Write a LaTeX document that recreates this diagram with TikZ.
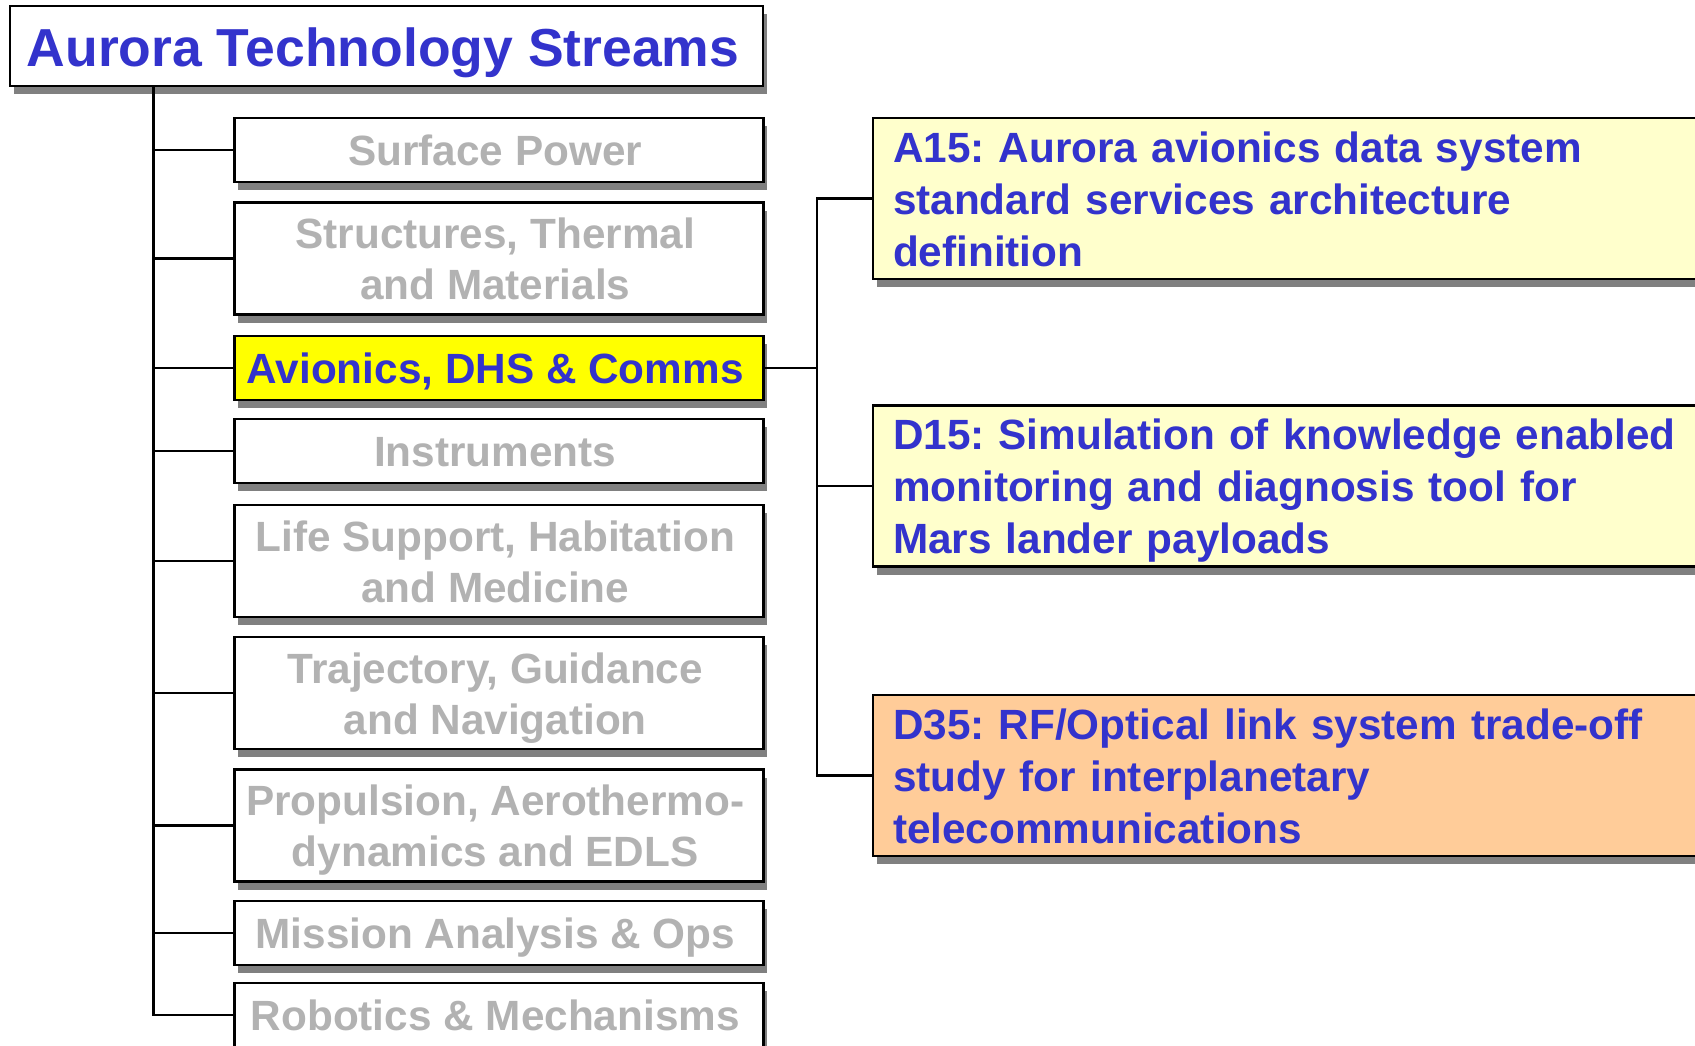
\documentclass[tikz,border=0pt]{standalone}
\usepackage{fontspec}
\setmainfont{Liberation Sans}
\usetikzlibrary{shadows}
\frenchspacing
\definecolor{txtblue}{RGB}{51,51,204}
\definecolor{txtgray}{RGB}{178,178,178}
\definecolor{shgray}{RGB}{128,128,128}
\definecolor{hlyellow}{RGB}{255,255,0}
\definecolor{paleyellow}{RGB}{255,255,204}
\definecolor{peach}{RGB}{255,204,153}
\newcommand\lnstrut{\rule[-0.22em]{0pt}{1.196em}}
\newcommand\Ln[1]{\lnstrut#1\kern7pt}
\tikzset{
  boxbase/.style={draw=black, line width=2.5pt, fill=white, rectangle, inner sep=0pt,
    drop shadow={shadow xshift=4pt, shadow yshift=-8pt, opacity=1, fill=shgray}},
  leftbox/.style={boxbase, minimum width=529pt, align=center, text=txtgray,
    font=\fontsize{42.3}{51}\selectfont\bfseries},
  single/.style={minimum height=64pt},
  double/.style={minimum height=112pt},
  rightbox/.style={boxbase, minimum width=857pt, minimum height=161pt, text width=817pt,
    inner xsep=20pt, align=left, text=txtblue, font=\fontsize{42.3}{52}\selectfont\bfseries},
  conn/.style={line width=2.5pt, draw=black}
}
\begin{document}
\begin{tikzpicture}[x=1pt,y=-1pt]
\clip (0,0) rectangle (1695,1046);
\fill[white] (0,0) rectangle (1695,1046);

\node[boxbase, minimum width=753pt, minimum height=80pt, text=txtblue,
  font=\fontsize{53.5}{60}\selectfont\bfseries] (title) at (386.5,46) {\Ln{Aurora Technology Streams}};

\node[leftbox, single] (sp)  at (498.75,150)   {\Ln{Surface Power}};
\node[leftbox, double] (stm) at (498.75,258.5) {\Ln{Structures, Thermal}\\\Ln{and Materials}};
\node[leftbox, single, fill=hlyellow, text=txtblue] (av) at (498.75,368) {\Ln{Avionics, DHS \& Comms}};
\node[leftbox, single] (ins) at (498.75,451)   {\Ln{Instruments}};
\node[leftbox, double] (ls)  at (498.75,561)   {\Ln{Life Support, Habitation}\\\Ln{and Medicine}};
\node[leftbox, double] (tgn) at (498.75,693)   {\Ln{Trajectory, Guidance}\\\Ln{and Navigation}};
\node[leftbox, double] (pa)  at (498.75,825.5) {\Ln{Propulsion, Aerothermo-}\\\Ln{dynamics and EDLS}};
\node[leftbox, single] (ma)  at (498.75,933)   {\Ln{Mission Analysis \& Ops}};
\node[leftbox, single] (rm)  at (498.75,1015)  {\Ln{Robotics \& Mechanisms}};

\node[rightbox, fill=paleyellow] (a15) at (1301.5,198.5) {\lnstrut A15: Aurora avionics data system\\\lnstrut standard services architecture\\\lnstrut definition};
\node[rightbox, fill=paleyellow] (d15) at (1301.5,486) {\lnstrut D15: Simulation of knowledge enabled\\\lnstrut monitoring and diagnosis tool for\\\lnstrut Mars lander payloads};
\node[rightbox, fill=peach] (d35) at (1301.5,775.5) {\lnstrut D35: RF/Optical link system trade-off\\\lnstrut study for interplanetary\\\lnstrut telecommunications};

\coordinate (tr) at (153.5,86);
\coordinate (rv) at (817,368);

\draw[conn] (tr) |- (rm.west);
\foreach \b in {sp,stm,av,ins,ls,tgn,pa,ma}
  \draw[conn] (\b.west) -- (\b.west -| tr);
\draw[conn] (av.east) -- (rv);
\draw[conn] (a15.west) -- (a15.west -| rv) -- (d35.west -| rv) -- (d35.west);
\draw[conn] (d15.west) -- (d15.west -| rv);
\end{tikzpicture}
\end{document}
